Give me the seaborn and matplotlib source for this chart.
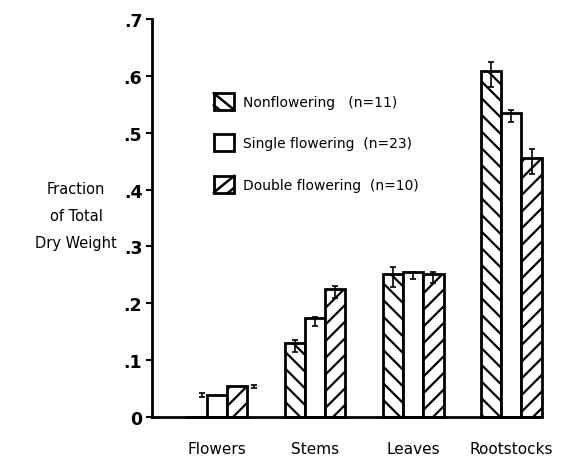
import matplotlib
matplotlib.use("Agg")
import matplotlib.pyplot as plt
import seaborn as sns
import pandas as pd
import numpy as np
from matplotlib.patches import Rectangle
from matplotlib.lines import Line2D
from matplotlib.legend_handler import HandlerBase

categories = ["Flowers", "Stems", "Leaves", "Rootstocks"]
groups = ["Nonflowering", "Single flowering", "Double flowering"]
group_labels = ["Nonflowering   (n=11)", "Single flowering  (n=23)", "Double flowering  (n=10)"]
nonflowering = [0.0, 0.131, 0.252, 0.608]
single = [0.039, 0.174, 0.255, 0.535]
double = [0.054, 0.226, 0.251, 0.455]
nonflowering_err = [0.0, 0.010, 0.018, 0.022]
single_err = [0.003, 0.008, 0.006, 0.011]
double_err = [0.003, 0.010, 0.010, 0.022]
yticks = [0, 0.1, 0.2, 0.3, 0.4, 0.5, 0.6, 0.7]
ytick_labels = ["0", ".1", ".2", ".3", ".4", ".5", ".6", ".7"]

df = pd.DataFrame({
    "part": categories * 3,
    "group": [g for g in groups for _ in categories],
    "value": nonflowering + single + double,
})
errs = [nonflowering_err, single_err, double_err]
hatches = ["\\\\", "", "//"]
key_slants = ["back", None, "fwd"]

sns.set_style("white")
plt.rcParams["font.family"] = ["DejaVu Sans"]
plt.rcParams["hatch.linewidth"] = 1.6
plt.rcParams["text.color"] = "black"
plt.rcParams["xtick.color"] = "black"
plt.rcParams["ytick.color"] = "black"


class HatchKey:
    def __init__(self, slant):
        self.slant = slant


class HatchKeyHandler(HandlerBase):
    """Square key with a single diagonal stroke, like a hand-lettered legend."""

    def create_artists(self, legend, orig_handle, xdescent, ydescent, width,
                       height, fontsize, trans):
        x0, y0 = -xdescent, -ydescent
        rect = Rectangle((x0, y0), width, height, facecolor="white",
                         edgecolor="black", linewidth=2, transform=trans)
        arts = [rect]
        if orig_handle.slant == "back":
            arts.append(Line2D([x0, x0 + width], [y0 + height, y0], color="black",
                               linewidth=1.8, transform=trans))
            arts.append(Line2D([x0, x0 + width * 0.3], [y0 + height * 0.3, y0],
                               color="black", linewidth=1.8, transform=trans))
        elif orig_handle.slant == "fwd":
            arts.append(Line2D([x0, x0 + width], [y0, y0 + height], color="black",
                               linewidth=1.8, transform=trans))
            arts.append(Line2D([x0 + width * 0.7, x0 + width], [y0, y0 + height * 0.3],
                               color="black", linewidth=1.8, transform=trans))
        return arts


fig = plt.figure(figsize=(5.63, 4.64), dpi=100)
ax = fig.add_axes([0.27, 0.099, 0.687, 0.858])

sns.barplot(data=df, x="part", y="value", hue="group", order=categories,
            hue_order=groups, width=0.62, errorbar=None, ax=ax,
            palette=["white"] * 3, edgecolor="black", linewidth=2, legend=False)

for cont, hatch, err in zip(ax.containers, hatches, errs):
    for i, bar in enumerate(cont):
        bar.set_hatch(hatch)
        bar.set_facecolor("white")
        bar.set_clip_on(False)
        h = bar.get_height()
        if h <= 0:
            continue
        cx = bar.get_x() + bar.get_width() / 2
        ey = h - 0.006
        if categories[i] == "Flowers":
            # tiny errors drawn beside the short flower bars
            if hatch == "":
                cx = bar.get_x() - 0.05
            else:
                cx = bar.get_x() + bar.get_width() + 0.07
            ey = h
        ax.errorbar(cx, ey, yerr=err[i], fmt="none", ecolor="black",
                    elinewidth=1.2, capsize=2.5, capthick=1.2, zorder=5,
                    clip_on=False)

ax.set_xlim(-0.66, 3.28)
ax.set_ylim(0, 0.7)
ax.set_yticks(yticks)
ax.set_yticklabels(ytick_labels, fontsize=12.5, fontweight="bold")
ax.tick_params(axis="y", direction="out", length=4, width=1.5, left=True, pad=3)
ax.tick_params(axis="x", length=0, pad=17, labelsize=11)
ax.set_xlabel("")
ax.set_ylabel("")
for s in ["top", "right"]:
    ax.spines[s].set_visible(False)
for s in ["left", "bottom"]:
    ax.spines[s].set_linewidth(2)
    ax.spines[s].set_color("black")

fig.text(0.135, 0.533, "Fraction\nof Total\nDry Weight", ha="center", va="center",
         fontsize=10.5, linespacing=2.0)

keys = [HatchKey(s) for s in key_slants]
ax.legend(keys, group_labels, loc="upper left", bbox_to_anchor=(0.127, 0.845),
          frameon=False, handlelength=1.5, handleheight=1.5, labelspacing=1.75,
          fontsize=10, handletextpad=0.6,
          handler_map={HatchKey: HatchKeyHandler()})

fig.savefig("out.png", dpi=100)
